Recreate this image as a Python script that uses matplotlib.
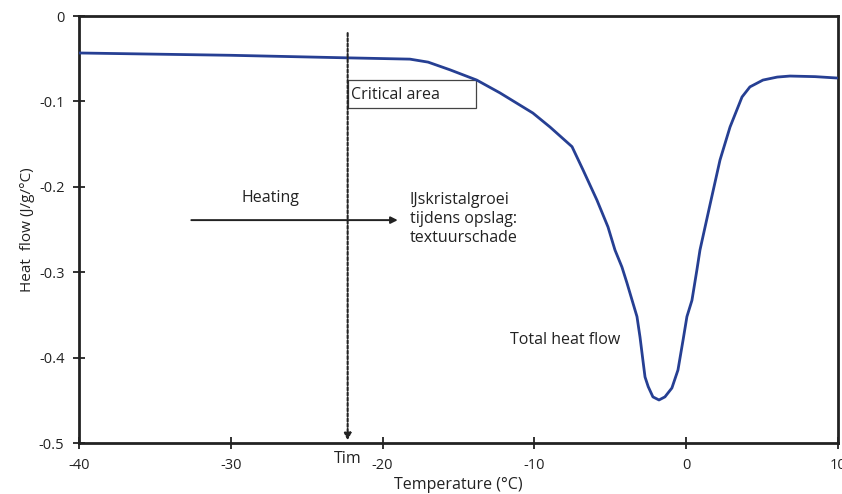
import matplotlib
matplotlib.use("Agg")
import matplotlib.pyplot as plt

# DSC curve
temp = [-40, -30, -22.3, -18.2, -17, -15.56, -13.8, -12.27, -10.1, -8.97,
        -7.52, -6.8, -5.88, -5.15, -4.69, -4.23, -3.9, -3.24, -3.04, -2.85,
        -2.71, -2.5, -2.19, -1.79, -1.4, -0.94, -0.54, -0.2, 0.05, 0.38, 0.71,
        0.91, 1.57, 2.23, 2.89, 3.68, 4.2, 5.06, 6.0, 6.84, 8.5, 9.93]
heat_flow = [-0.0433, -0.046, -0.049, -0.0505, -0.054, -0.063, -0.075, -0.090,
             -0.1136, -0.130, -0.153, -0.180, -0.2155, -0.247, -0.274, -0.294,
             -0.3126, -0.352, -0.376, -0.403, -0.4227, -0.434, -0.446, -0.4496,
             -0.446, -0.4356, -0.4145, -0.379, -0.352, -0.333, -0.297, -0.274,
             -0.221, -0.1686, -0.130, -0.0948, -0.083, -0.075, -0.0715, -0.0703,
             -0.071, -0.0726]

x_ticks = [-40, -30, -20, -10, 0, 10]
y_ticks = [0, -0.1, -0.2, -0.3, -0.4, -0.5]
y_tick_labels = ["0", "-0.1", "-0.2", "-0.3", "-0.4", "-0.5"]

t_im = -22.3
critical_box = (-22.3, -13.85, -0.075, -0.108)   # x0, x1, y_top, y_bottom
heating_arrow = (-32.6, -19.0, -0.239)

LINE = "#263f93"
INK = "#222222"
FS = 11.5

plt.rcParams["font.family"] = ["Open Sans", "DejaVu Sans"]

fig = plt.figure(figsize=(8.42, 4.94), dpi=100)
ax = fig.add_axes([0.0938, 0.1032, 0.9014, 0.8644])

ax.plot(temp, heat_flow, color=LINE, lw=2.0, solid_capstyle="round",
        solid_joinstyle="round", zorder=3)

ax.set_xlim(-40, 10)
ax.set_ylim(-0.5, 0)
ax.set_xticks(x_ticks)
ax.set_xticklabels([str(v) for v in x_ticks])
ax.set_yticks(y_ticks)
ax.set_yticklabels(y_tick_labels)
ax.tick_params(direction="inout", length=9, width=1.3, labelsize=10.5,
               colors=INK, pad=6)
for s in ax.spines.values():
    s.set_linewidth(2.0)
    s.set_color(INK)

ax.set_xlabel("Temperature (°C)", fontsize=FS, color=INK, labelpad=3)
ax.set_ylabel("Heat  flow (J/g/°C)", fontsize=11, color=INK, labelpad=3)

# Tim marker: dotted line with arrow down to the axis
ax.annotate("", xy=(t_im, -0.497), xytext=(t_im, -0.02),
            arrowprops=dict(arrowstyle="-|>", linestyle=(0, (1.5, 1)), lw=1.5,
                            color=INK, mutation_scale=10, shrinkA=0, shrinkB=0))
ax.text(t_im, -0.519, "Tim", ha="center", va="center", fontsize=FS,
        color=INK, clip_on=False)

# Critical area box
x0, x1, yt, yb = critical_box
ax.add_patch(plt.Rectangle((x0, yb), x1 - x0, yt - yb, fill=False,
                           lw=0.9, edgecolor="#444444", zorder=2))
ax.text(x0 + 0.2, (yt + yb) / 2 - 0.001, "Critical area", ha="left",
        va="center", fontsize=FS, color=INK)

# Heating arrow
hx0, hx1, hy = heating_arrow
ax.annotate("", xy=(hx1, hy), xytext=(hx0, hy),
            arrowprops=dict(arrowstyle="-|>", lw=1.4, color=INK,
                            mutation_scale=10, shrinkA=0, shrinkB=0))
ax.text(-27.4, -0.213, "Heating", ha="center", va="center", fontsize=FS, color=INK)
ax.text(-18.2, -0.238, "IJskristalgroei\ntijdens opslag:\ntextuurschade",
        ha="left", va="center", fontsize=FS, color=INK, linespacing=1.25)

ax.text(-11.6, -0.379, "Total heat flow", ha="left", va="center",
        fontsize=FS, color=INK)

fig.savefig("out.png", dpi=100, facecolor="white")
